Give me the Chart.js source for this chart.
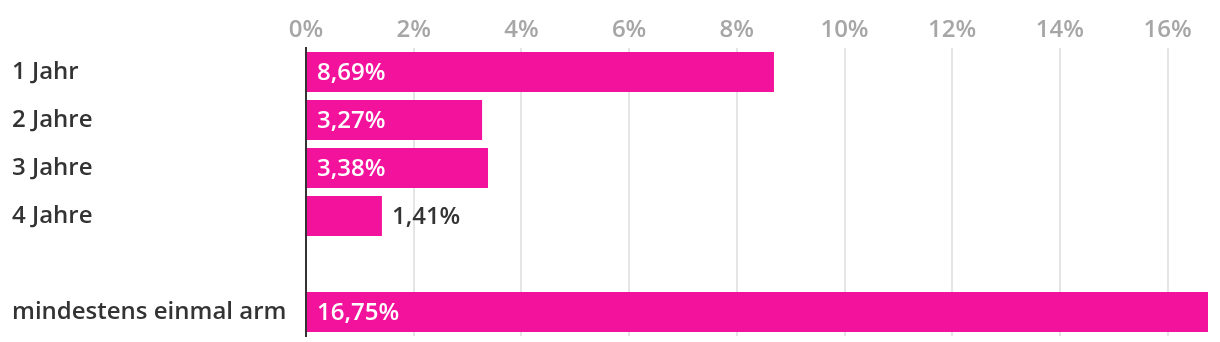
<!DOCTYPE html>
<html>
<head>
<meta charset="utf-8">
<script src="https://cdn.jsdelivr.net/npm/chart.js@4"></script>
<style>
  html, body { margin: 0; padding: 0; background: #fff; }
  #wrap { width: 1220px; height: 342px; }
</style>
</head>
<body>
<div id="wrap"><canvas id="myChart"></canvas></div>
<script>
const categories = ['1 Jahr', '2 Jahre', '3 Jahre', '4 Jahre', '', 'mindestens einmal arm']
const values = [8.69, 3.27, 3.38, 1.41, null, 16.75]
const tickValues = [0, 2, 4, 6, 8, 10, 12, 14, 16]

const BAR_COLOR = '#f2129b'
const FONT = '"Open Sans", "Noto Sans", sans-serif'
const FONT_SIZE = 24
const FONT_WEIGHT = 600

const fmt = v => v.toFixed(2).replace('.', ',') + '%'

const valueLabels = {
  id: 'valueLabels',
  afterDatasetsDraw: chart => {
    const ctx = chart.ctx
    const meta = chart.getDatasetMeta(0)
    ctx.save()
    ctx.font = FONT_WEIGHT + ' ' + FONT_SIZE + 'px ' + FONT
    ctx.textBaseline = 'middle'
    ctx.textAlign = 'left'
    meta.data.forEach((bar, i) => {
      const v = values[i]
      if (v == null) return
      const text = fmt(v)
      const w = ctx.measureText(text).width
      const left = bar.base
      const right = bar.x
      if (right - left > w + 20) {
        ctx.fillStyle = '#ffffff'
        ctx.fillText(text, left + 10, bar.y + 1)
      } else {
        ctx.fillStyle = '#333333'
        ctx.fillText(text, right + 10, bar.y + 1)
      }
    })
    ctx.restore()
  }
}

const config = {
  type: 'bar',
  data: {
    labels: categories,
    datasets: [{
      data: values,
      backgroundColor: BAR_COLOR,
      borderWidth: 0,
      barPercentage: 40 / 48,
      categoryPercentage: 1
    }]
  },
  plugins: [valueLabels],
  options: {
    indexAxis: 'y',
    responsive: true,
    maintainAspectRatio: false,
    animation: false,
    layout: { padding: { left: 12, right: 12, top: 0, bottom: 6 } },
    plugins: {
      legend: { display: false },
      tooltip: { enabled: false }
    },
    scales: {
      x: {
        position: 'top',
        min: 0,
        max: 16.75,
        afterBuildTicks: axis => {
          axis.ticks = tickValues.map(v => ({ value: v }))
        },
        afterFit: axis => {
          axis.height = 48
          axis.paddingLeft = 0
          axis.paddingRight = 0
        },
        grid: { color: '#e5e5e5', lineWidth: 2, drawTicks: false },
        border: { display: false },
        ticks: {
          color: '#a6a6a6',
          font: { family: FONT, size: FONT_SIZE, weight: FONT_WEIGHT },
          padding: 3,
          callback: v => v + '%'
        }
      },
      y: {
        afterFit: axis => {
          axis.width = 294
          axis.paddingTop = 0
          axis.paddingBottom = 0
        },
        grid: { display: false, drawTicks: false },
        border: { display: true, color: '#333333', width: 2 },
        ticks: {
          color: '#333333',
          font: { family: FONT, size: FONT_SIZE, weight: FONT_WEIGHT },
          crossAlign: 'far',
          padding: 0
        }
      }
    }
  }
}

new Chart(document.getElementById('myChart'), config)
</script>
</body>
</html>
